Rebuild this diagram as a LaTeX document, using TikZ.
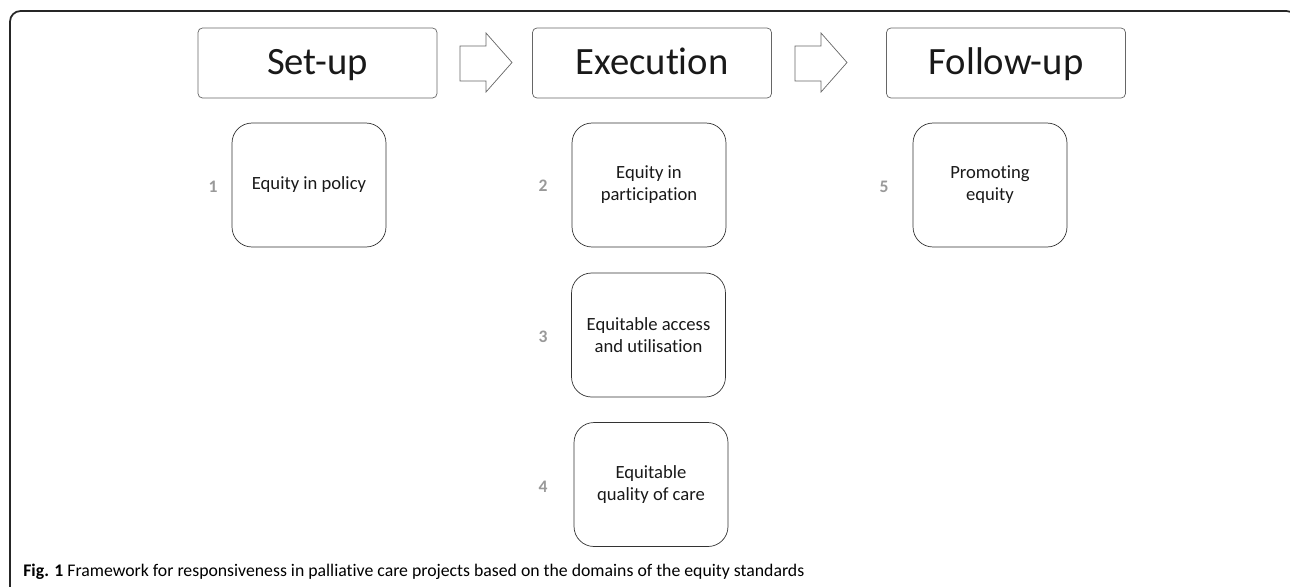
\documentclass[tikz,border=0pt]{standalone}
\usepackage{fontspec}
\setmainfont{Carlito}[Ligatures=NoCommon]
\tikzset{
  phase/.style = {draw=black!60, thin, rounded corners=2.5pt, minimum width=4.78cm, minimum height=1.4cm, inner sep=0pt, text height=16pt, text depth=3.4pt, font=\fontsize{22}{26}\selectfont, text=black!90},
  domainbox/.style = {draw=black!80, rounded corners=0.4cm, minimum width=3.08cm, minimum height=2.48cm, inner sep=0pt, align=center, font=\fontsize{10.6}{12.5}\selectfont, text=black!90},
  num/.style = {text=black!40, font=\bfseries\fontsize{10}{12}\selectfont},
  blockarrow/.style = {draw=black!60, fill=white, thin}
}
\begin{document}
\begin{tikzpicture}[x=0.02cm, y=-0.02cm]
\useasboundingbox (0,0) rectangle (1290,586);
% outer frame
\begin{scope}
\clip (0,0) rectangle (1290,586);
\draw[black!85, line width=1pt, rounded corners=6pt] (10,620) -- (10,11) -- (1297,11) -- (1297,620);
\end{scope}
% phases
\node[phase] (setup) at (317.5, 63) {Set-up};
\node[phase] (exec) at (652, 63) {Execution};
\node[phase] (follow) at (1006, 63) {Follow-up};
\draw[blockarrow] (460,46) -- (486,46) -- (486,33) -- (512,62.5) -- (486,92) -- (486,81) -- (460,81) -- cycle;
\draw[blockarrow] (795,46) -- (821,46) -- (821,33) -- (847,62.5) -- (821,92) -- (821,81) -- (795,81) -- cycle;
% domains
\node[domainbox] (policy) at (309, 185) {Equity in policy};
\node[domainbox] (particip) at (649, 185) {Equity in\\participation};
\node[domainbox] (access) at (648.5, 335) {Equitable access\\and utilisation};
\node[domainbox] (quality) at (651, 484.5) {Equitable\\quality of care};
\node[domainbox] (promote) at (990, 185) {Promoting\\equity};
\node[num] (n1) at (213, 187) {1};
\node[num] (n2) at (543, 186) {2};
\node[num] (n3) at (543, 337) {3};
\node[num] (n4) at (543, 487) {4};
\node[num] (n5) at (884, 187) {5};
% caption
\node[anchor=base west, inner sep=0pt, font=\fontsize{10.1}{12}\selectfont] (caption) at (23, 576)
  {\textbf{Fig. 1} Framework for responsiveness in palliative care projects based on the domains of the equity standards};
\end{tikzpicture}
\end{document}
